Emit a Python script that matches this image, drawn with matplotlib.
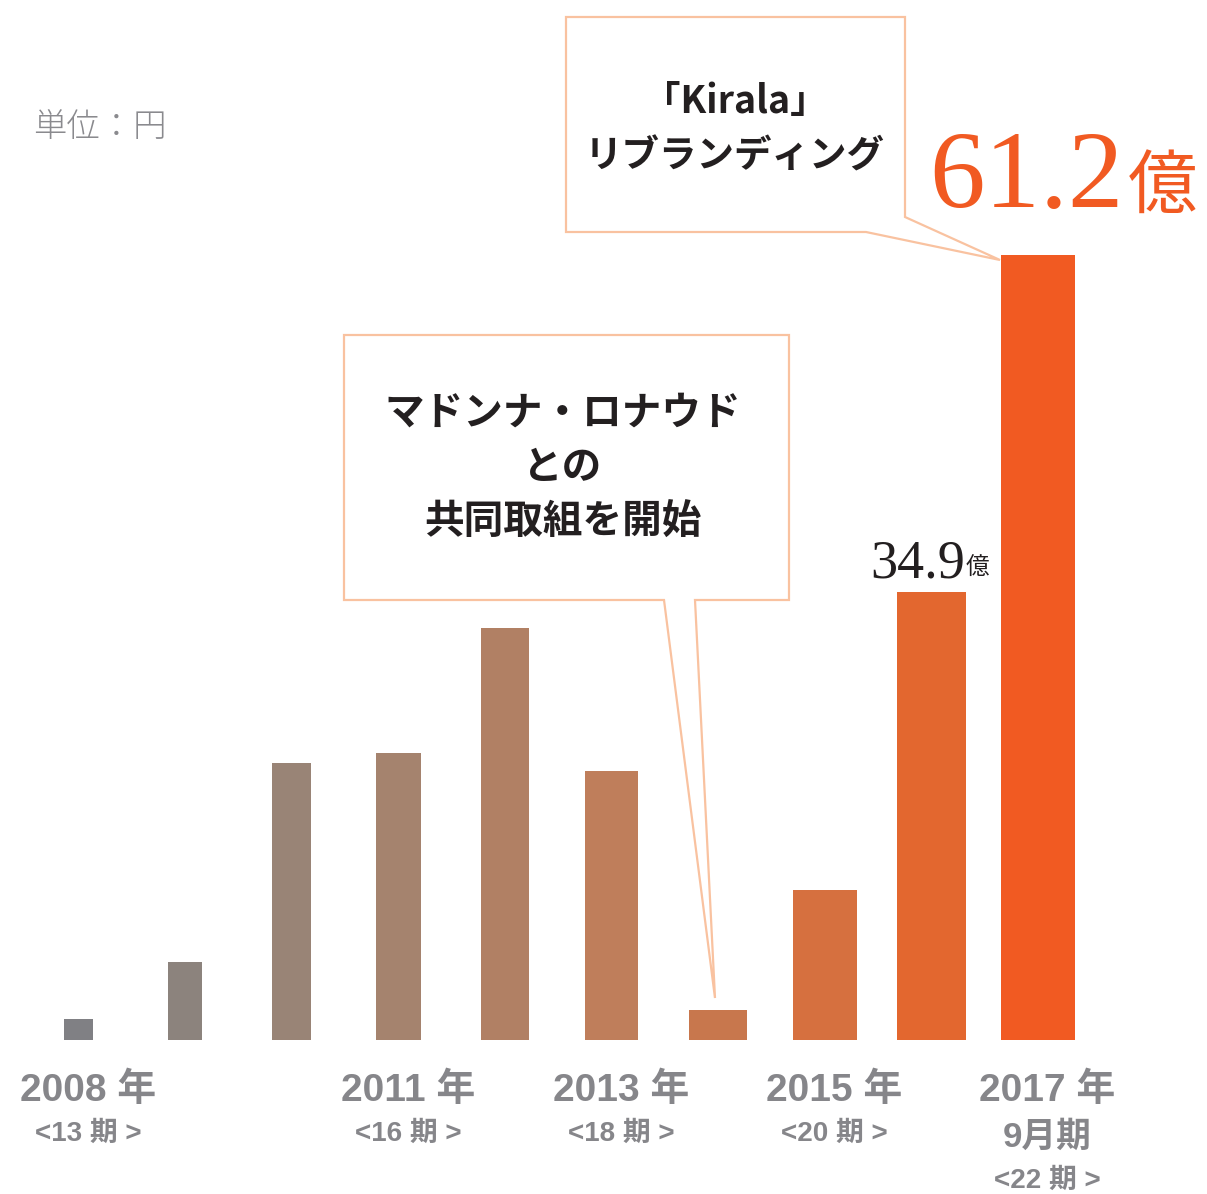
import matplotlib.pyplot as plt
from matplotlib.patches import Polygon

plt.rcParams['font.family'] = ['Liberation Sans', 'Noto Sans CJK JP', 'DejaVu Sans']

# sales in 億円
values = [1.6, 6.1, 21.6, 22.4, 32.1, 21.0, 2.3, 11.7, 34.9, 61.2]
year_labels = {0: '2008 年', 3: '2011 年', 5: '2013 年', 7: '2015 年', 9: '2017 年'}
term_labels = {0: '<13 期 >', 3: '<16 期 >', 5: '<18 期 >', 7: '<20 期 >', 9: '<22 期 >'}

colors = ['#808084', '#8C837D', '#998476', '#A5836E', '#B18064',
          '#BF7E5B', '#C8774D', '#D6703F', '#E3672F', '#F15A22']
widths = [0.28, 0.32, 0.37, 0.42, 0.45, 0.50, 0.54, 0.60, 0.65, 0.69]

W, H = 1207, 1194
fig = plt.figure(figsize=(W / 100, H / 100), dpi=100)
ax = fig.add_axes([0, 0, 1, 1])

# map data to pixels: index 0 -> x=78.5px, spacing 106.6px; 0 -> y=1040px, 61.2 -> y=255px
xs = 106.6
ys = 785 / 61.2
ax.set_xlim(-78.5 / xs, (W - 78.5) / xs)
ax.set_ylim(-(H - 1040) / ys, 1040 / ys)
ax.axis('off')

ax.bar(range(len(values)), values, width=widths, color=colors, zorder=2)


def P(x, y):
    return (x / W, 1 - y / H)


gray = '#86868A'
for i, t in year_labels.items():
    ax.text(i + 0.09, -3.95, t, ha='center', va='center', fontsize=28,
            fontweight='bold', color=gray)
for i, t in term_labels.items():
    y = -10.95 if i == 9 else -7.35
    ax.text(i + 0.09, y, t, ha='center', va='center', fontsize=20,
            fontweight='bold', color=gray)
ax.text(9 + 0.09, -7.6, '9月期', ha='center', va='center', fontsize=25,
        fontweight='bold', color=gray)

fig.text(*P(33, 128), '単位：円', ha='left', va='center', fontsize=24,
         color='#8A8A8E', family=['Noto Sans CJK JP'], fontweight='light')

# value labels
fig.text(*P(1124, 207), '61.2', ha='right', va='baseline', fontsize=80,
         color='#F15A22', family=['Liberation Serif'])
fig.text(*P(1128, 207), '億', ha='left', va='baseline', fontsize=50,
         color='#F15A22', family=['Noto Sans CJK JP'])
fig.text(*P(965, 577), '34.9', ha='right', va='baseline', fontsize=39,
         color='#231F20', family=['Liberation Serif'])
fig.text(*P(966, 575), '億', ha='left', va='baseline', fontsize=17,
         color='#231F20', family=['Noto Sans CJK JP'])

edge = '#F9C2A0'
box1 = [(566, 17), (905, 17), (905, 217), (1000, 260), (866, 232), (566, 232)]
box2 = [(344, 335), (789, 335), (789, 600), (695, 600), (715, 998), (664, 600), (344, 600)]
for pts in (box1, box2):
    fig.add_artist(Polygon([P(x, y) for x, y in pts], closed=True, transform=fig.transFigure,
                           facecolor='white', edgecolor=edge, linewidth=1.6, zorder=3))

txt = dict(ha='center', va='center', fontweight='bold', color='#231F20',
           family=['Noto Sans CJK JP'], zorder=4)
fig.text(*P(735, 101), '「Kirala」', fontsize=27, **txt)
fig.text(*P(735, 156), 'リブランディング', fontsize=27, **txt)
fig.text(*P(563, 413), 'マドンナ・ロナウド', fontsize=28.5, **txt)
fig.text(*P(563, 468), 'との', fontsize=28.5, **txt)
fig.text(*P(563, 522), '共同取組を開始', fontsize=28.5, **txt)

fig.savefig('out.png', dpi=100, facecolor='white')
